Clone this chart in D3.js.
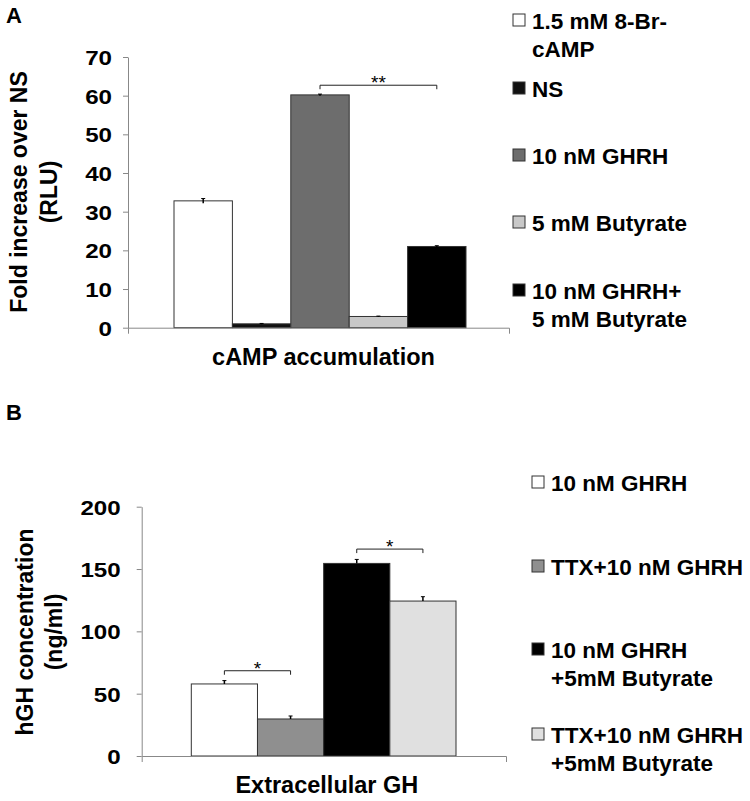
<!DOCTYPE html>
<html>
<head>
<meta charset="utf-8">
<script src="https://cdn.jsdelivr.net/npm/d3@7/dist/d3.min.js"></script>
<style>
  html, body { margin: 0; padding: 0; background: #fff; }
  svg text { font-family: "Liberation Sans", Arial, Helvetica, sans-serif; font-weight: bold; fill: #000; }
</style>
</head>
<body>
<svg id="chart" width="750" height="801"></svg>
<script>
// ---------- Panel A data ----------
const seriesA = ["1.5 mM 8-Br-cAMP", "NS", "10 nM GHRH", "5 mM Butyrate", "10 nM GHRH+5 mM Butyrate"];
const legendLinesA = [["1.5 mM 8-Br-", "cAMP"], ["NS"], ["10 nM GHRH"], ["5 mM Butyrate"], ["10 nM GHRH+", "5 mM Butyrate"]];
const valuesA = [32.8, 1.0, 60.2, 2.9, 21.0];
const errorsA = [0.6, 0.1, 0.2, 0.1, 0.2];
const colorsA = ["#ffffff", "#111111", "#6d6d6d", "#c8c8c8", "#000000"];
const ticksA = [0, 10, 20, 30, 40, 50, 60, 70];
const categoryA = "cAMP accumulation";
const yTitleA = ["Fold increase over NS", "(RLU)"];
const sigA = [{ from: 2, to: 4, level: 62.7, label: "**" }];

// ---------- Panel B data ----------
const seriesB = ["10 nM GHRH", "TTX+10 nM GHRH", "10 nM GHRH +5mM Butyrate", "TTX+10 nM GHRH +5mM Butyrate"];
const legendLinesB = [["10 nM GHRH"], ["TTX+10 nM GHRH"], ["10 nM GHRH", "+5mM Butyrate"], ["TTX+10 nM GHRH", "+5mM Butyrate"]];
const valuesB = [57.8, 29.7, 154.5, 124.3];
const errorsB = [2.7, 2.4, 3.2, 3.5];
const colorsB = ["#ffffff", "#8f8f8f", "#000000", "#e0e0e0"];
const ticksB = [0, 50, 100, 150, 200];
const categoryB = "Extracellular GH";
const yTitleB = ["hGH concentration", "(ng/ml)"];
const sigB = [{ from: 0, to: 1, level: 68.4, label: "*" }, { from: 2, to: 3, level: 166, label: "*" }];

const svg = d3.select("#chart");

function panel(cfg) {
  const g = svg.append("g");
  const y = d3.scaleLinear().domain([0, cfg.max]).range([cfg.bottom, cfg.top]);
  const xBand = d3.scaleBand().domain(cfg.series).range([cfg.barL, cfg.barR]).padding(0);

  // bars
  g.selectAll("rect.bar").data(cfg.values).join("rect")
    .attr("class", "bar")
    .attr("x", (d, i) => xBand(cfg.series[i]))
    .attr("y", d => y(d))
    .attr("width", xBand.bandwidth())
    .attr("height", d => y(0) - y(d))
    .attr("fill", (d, i) => cfg.colors[i])
    .attr("stroke", "#333")
    .attr("stroke-width", 1);

  // error bars
  const eb = g.selectAll("g.err").data(cfg.values).join("g").attr("class", "err");
  eb.append("line")
    .attr("x1", (d, i) => xBand(cfg.series[i]) + xBand.bandwidth() / 2)
    .attr("x2", (d, i) => xBand(cfg.series[i]) + xBand.bandwidth() / 2)
    .attr("y1", (d, i) => y(d - (cfg.twoSided ? cfg.errors[i] : 0)))
    .attr("y2", (d, i) => y(d + cfg.errors[i]))
    .attr("stroke", "#000").attr("stroke-width", 1.5);
  eb.append("line")
    .attr("x1", (d, i) => xBand(cfg.series[i]) + xBand.bandwidth() / 2 - 2)
    .attr("x2", (d, i) => xBand(cfg.series[i]) + xBand.bandwidth() / 2 + 2)
    .attr("y1", (d, i) => y(d + cfg.errors[i]))
    .attr("y2", (d, i) => y(d + cfg.errors[i]))
    .attr("stroke", "#000").attr("stroke-width", 1);

  // y axis
  const ya = g.append("g").attr("transform", `translate(${cfg.left},0)`)
    .call(d3.axisLeft(y).tickValues(cfg.ticks).tickSize(5).tickPadding(12).tickSizeOuter(0));
  ya.select(".domain").attr("stroke", "#888");
  ya.selectAll(".tick line").attr("stroke", "#888");
  ya.selectAll(".tick text")
    .style("font-size", "21px")
    .attr("transform", "scale(1.15,1)")
    .attr("x", -cfg.tickGap / 1.15)
    .attr("dy", "0.36em");

  // x axis (single category)
  const xc = d3.scaleBand().domain([cfg.category]).range([cfg.left, cfg.right]);
  const xa = g.append("g").attr("transform", `translate(0,${cfg.bottom})`)
    .call(d3.axisBottom(xc).tickSize(0).tickSizeOuter(6).tickPadding(0));
  xa.select(".domain").attr("stroke", "#888");
  xa.selectAll(".tick text").remove();
  g.append("text")
    .attr("x", xc(cfg.category) + xc.bandwidth() / 2 + cfg.catShift)
    .attr("y", cfg.catY)
    .attr("text-anchor", "middle")
    .style("font-size", "23.5px")
    .text(cfg.category);

  // y title
  const yt = g.append("text")
    .attr("transform", `translate(${cfg.yTitleX},${cfg.yTitleY}) rotate(-90)`)
    .attr("text-anchor", "middle")
    .style("font-size", "23px");
  cfg.yTitle.forEach((t, i) => {
    yt.append("tspan").attr("x", 0).attr("y", i * cfg.yTitleGap).text(t);
  });

  // panel letter
  g.append("text").attr("x", 6).attr("y", cfg.letterY).style("font-size", "22px").text(cfg.letter);

  // significance brackets
  cfg.sig.forEach(s => {
    const xa1 = xBand(cfg.series[s.from]) + xBand.bandwidth() / 2;
    const xa2 = xBand(cfg.series[s.to]) + xBand.bandwidth() / 2;
    const yl = y(s.level);
    g.append("path")
      .attr("d", `M${xa1},${yl + 4}V${yl}H${xa2}V${yl + 4}`)
      .attr("fill", "none").attr("stroke", "#222").attr("stroke-width", 1);
    g.append("text")
      .attr("x", (xa1 + xa2) / 2).attr("y", yl + 4)
      .attr("text-anchor", "middle")
      .style("font-size", "19px").style("font-weight", "normal")
      .text(s.label);
  });

  // legend
  const lg = g.append("g");
  cfg.legendLines.forEach((lines, i) => {
    const by = cfg.legendY[i];
    lg.append("rect")
      .attr("x", cfg.legendX).attr("y", by - 15)
      .attr("width", 12).attr("height", 12)
      .attr("fill", cfg.colors[i]).attr("stroke", "#333").attr("stroke-width", 1);
    const t = lg.append("text").style("font-size", "22.5px");
    lines.forEach((ln, j) => {
      t.append("tspan").attr("x", cfg.legendX + 19).attr("y", by + j * 28).text(ln);
    });
  });
}

panel({
  letter: "A", letterY: 23,
  series: seriesA, values: valuesA, errors: errorsA, colors: colorsA, twoSided: true,
  max: 70, ticks: ticksA, top: 57, bottom: 327.7, left: 128, right: 509, tickGap: 16,
  barL: 174, barR: 466,
  category: categoryA, catShift: 5, catY: 365,
  yTitle: yTitleA, yTitleX: 27, yTitleY: 192, yTitleGap: 30,
  sig: sigA,
  legendLines: legendLinesA, legendX: 513, legendY: [29, 97, 164, 231, 299]
});

panel({
  letter: "B", letterY: 420,
  series: seriesB, values: valuesB, errors: errorsB, colors: colorsB, twoSided: false,
  max: 200, ticks: ticksB, top: 506.7, bottom: 756, left: 141.7, right: 506, tickGap: 21,
  barL: 191.3, barR: 456,
  category: categoryB, catShift: 3, catY: 793,
  yTitle: yTitleB, yTitleX: 33, yTitleY: 632, yTitleGap: 29,
  sig: sigB,
  legendLines: legendLinesB, legendX: 532, legendY: [491, 575, 658, 743]
});
</script>
</body>
</html>
